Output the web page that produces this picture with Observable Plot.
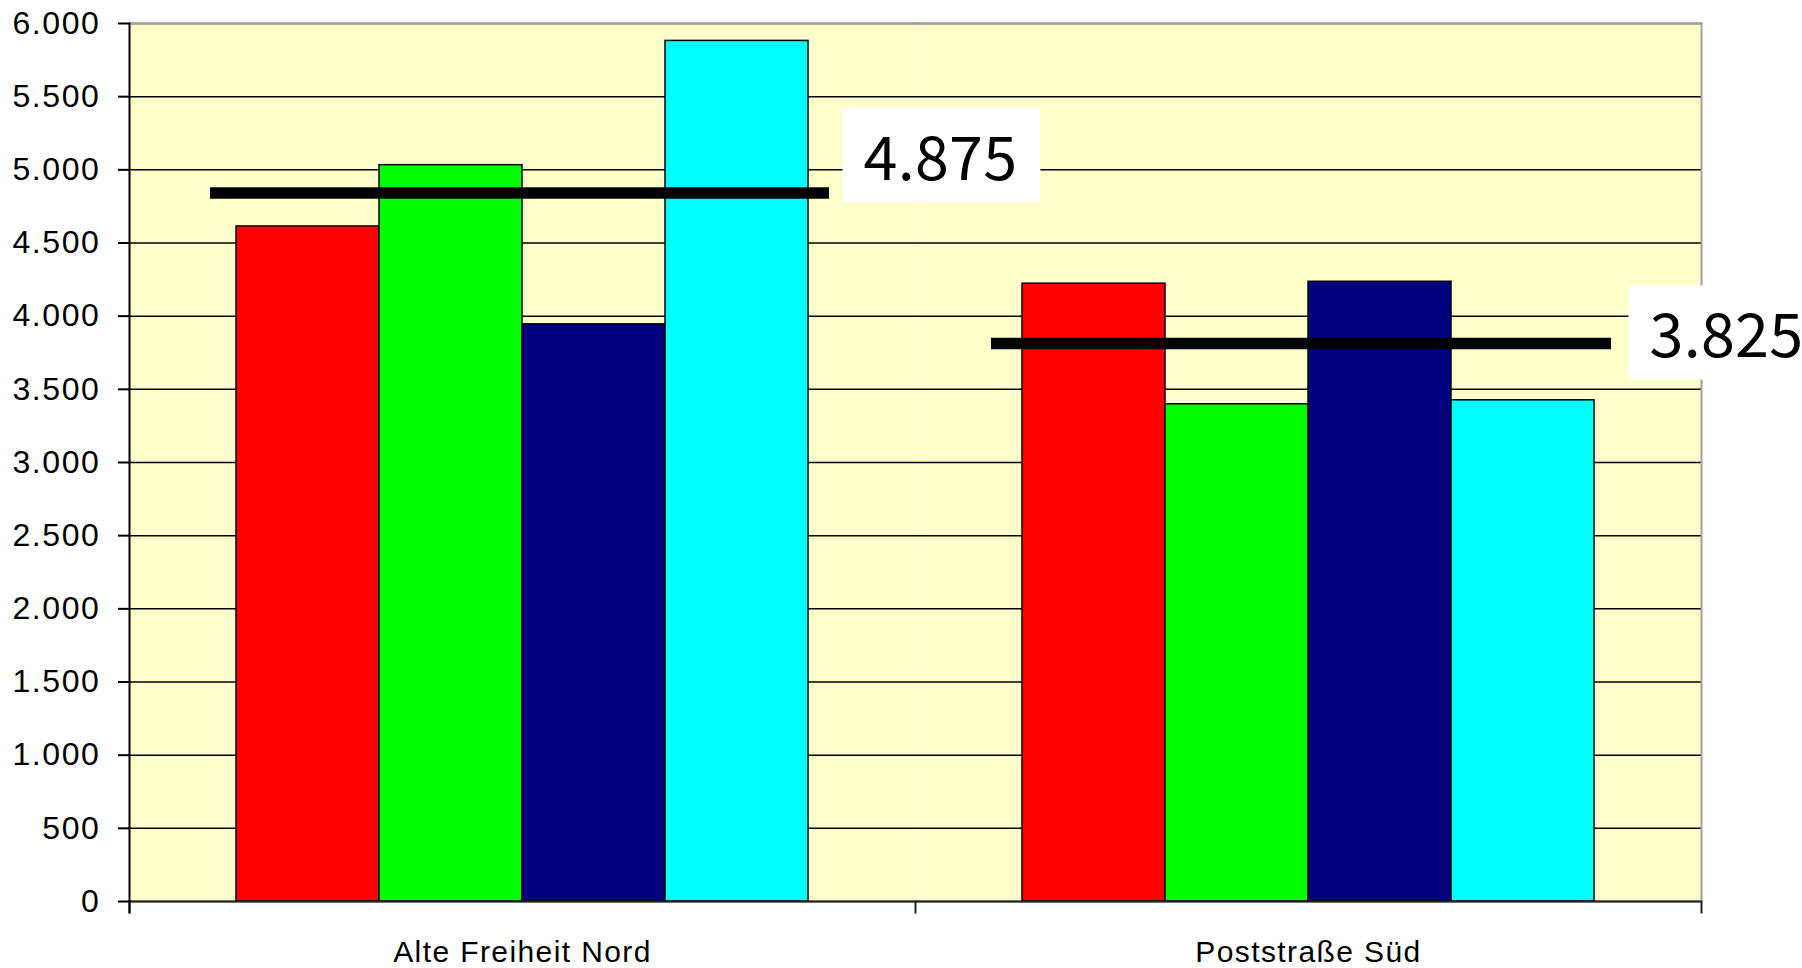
<!DOCTYPE html>
<html>
<head>
<meta charset="utf-8">
<script src="https://cdn.jsdelivr.net/npm/d3@7"></script>
<script src="https://cdn.jsdelivr.net/npm/@observablehq/plot@0.6"></script>
<style>
  html, body { margin: 0; padding: 0; background: #ffffff; }
  #chart svg { display: block; overflow: visible; }
  g[aria-label="y-axis tick label"] text { letter-spacing: 1.6px; }
  g[aria-label="fx-axis tick label"] text { letter-spacing: 1.4px; }
  .avg-label text { letter-spacing: 0.3px; }
</style>
</head>
<body>
<div id="chart"></div>
<script>
// ---- data ----
const categories = ["Alte Freiheit Nord", "Poststraße Süd"];
const series = ["Reihe 1", "Reihe 2", "Reihe 3", "Reihe 4"];
const seriesColors = ["#ff0000", "#00ff00", "#000080", "#00ffff"];
const valuesAlteFreiheitNord = [4613, 5032, 3944, 5881];
const valuesPoststrasseSued = [4222, 3398, 4235, 3425];
const averageValues = [4875, 3825];          // labelled averages
const averageLineLevels = [4842, 3813];      // where the black bars are drawn
const averageLabelLevels = [5077, 3865];     // where the label boxes sit
const yTicks = [0, 500, 1000, 1500, 2000, 2500, 3000, 3500, 4000, 4500, 5000, 5500, 6000];

// ---- table built from the arrays ----
const valuesByCategory = [valuesAlteFreiheitNord, valuesPoststrasseSued];
const bars = [];
categories.forEach((c, i) => series.forEach((s, j) => bars.push({cat: c, series: s, value: valuesByCategory[i][j]})));
const averages = categories.map((c, i) => ({cat: c, value: averageValues[i], line: averageLineLevels[i], label: averageLabelLevels[i]}));

const W = 1802, H = 968;
const mT = 23, mB = 67, mL = 128, mR = 101;
const plotH = H - mT - mB;
const fmt = d => d.toLocaleString("de-DE");
const lineInsets = [[81, 86], [76, 90]];

const chart = Plot.plot({
  width: W,
  height: H,
  marginTop: mT,
  marginBottom: mB,
  marginLeft: mL,
  marginRight: mR,
  style: {fontFamily: "'Liberation Sans', Arial, sans-serif", background: "#ffffff", color: "#000"},
  fx: {domain: categories, padding: 0, label: null},
  x: {domain: series, paddingInner: 0, paddingOuter: 0.745, axis: null},
  y: {domain: [0, 6000], axis: null},
  color: {domain: series, range: seriesColors},
  marks: [
    Plot.frame({fill: "#ffffcc", stroke: "none"}),
    Plot.gridY(yTicks, {stroke: "#000", strokeOpacity: 1, strokeWidth: 1.5}),
    Plot.barY(bars, {fx: "cat", x: "series", y: "value", fill: "series", stroke: "#000", strokeWidth: 1.5}),
    Plot.ruleY([0], {stroke: "#222", strokeWidth: 2}),
    Plot.frame({anchor: "top", stroke: "#a0a0a0", strokeWidth: 2}),
    Plot.frame({anchor: "right", stroke: "#a0a0a0", strokeWidth: 2, facetAnchor: "right"}),
    Plot.frame({anchor: "right", stroke: "#222", strokeWidth: 2, insetTop: plotH, insetBottom: -11, facetAnchor: "right"}),
    Plot.frame({anchor: "left", stroke: "#222", strokeWidth: 2, insetTop: plotH, insetBottom: -11}),
    Plot.frame({anchor: "left", stroke: "#000", strokeWidth: 2, insetBottom: -11, facetAnchor: "left"}),
    Plot.axisY(yTicks, {
      anchor: "left", tickSize: 11, tickPadding: 18, tickFormat: fmt,
      fontSize: 32, stroke: "#000", strokeWidth: 2, label: null
    }),
    Plot.axisFx({anchor: "bottom", tickSize: 0, tickPadding: 39, fontSize: 30, label: null}),
    ...averages.map((a, i) => Plot.ruleY([a], {
      fx: "cat", y: "line", stroke: "#000", strokeWidth: 11.5,
      insetLeft: lineInsets[i][0], insetRight: lineInsets[i][1]
    })),
    Plot.text(averages, {
      fx: "cat", y: "label", text: d => fmt(d.value),
      frameAnchor: "right", textAnchor: "start", dx: -52, dy: 2,
      fontSize: 61, fontFamily: "'Noto Sans CJK JP', 'Noto Sans', sans-serif",
      fill: "#000", className: "avg-label"
    })
  ]
});

document.getElementById("chart").appendChild(chart);

// white boxes behind the average labels, sized from the rendered text
document.querySelectorAll(".avg-label text").forEach(t => {
  const b = t.getBBox();
  const r = document.createElementNS("http://www.w3.org/2000/svg", "rect");
  r.setAttribute("x", b.x - 21);
  r.setAttribute("y", b.y - 1);
  r.setAttribute("width", b.width + 44);
  r.setAttribute("height", b.height + 5);
  r.setAttribute("fill", "#ffffff");
  const tr = t.getAttribute("transform");
  if (tr) r.setAttribute("transform", tr);
  t.parentNode.insertBefore(r, t);
});
</script>
</body>
</html>
